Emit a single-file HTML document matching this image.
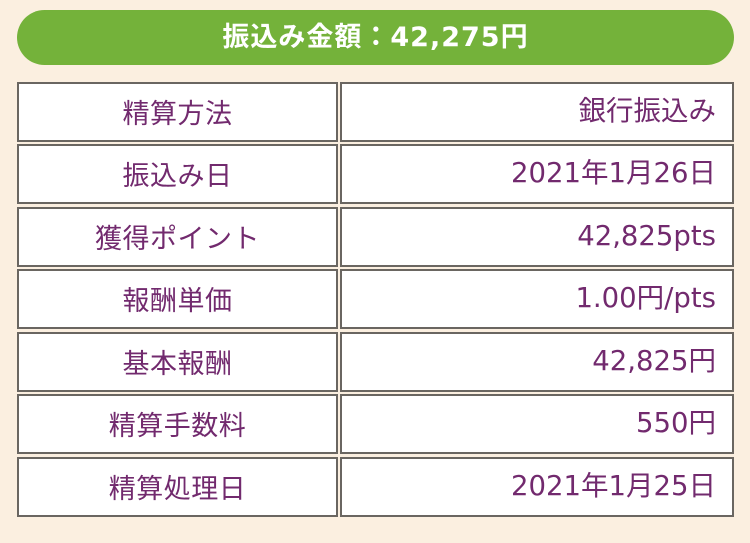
<!DOCTYPE html>
<html><head><meta charset="utf-8"><style>
body{margin:0;width:750px;height:543px;background:#fbefe0;position:relative;overflow:hidden;font-family:"DejaVu Sans","Noto Sans CJK JP",sans-serif;}
.ban{position:absolute;left:17px;top:10px;width:717px;height:55px;border-radius:28px;background:#74b23a;color:#fff;font-weight:bold;font-size:27px;line-height:55px;text-align:center;letter-spacing:1px}
.c{position:absolute;box-sizing:border-box;height:60px;border:2px solid #6a6661;background:#fff;color:#722a6e;font-size:27.5px;line-height:55px}
.l{left:17px;width:321px;text-align:center;font-family:"Noto Sans CJK JP",sans-serif;font-size:27px;letter-spacing:0.5px}
.r{left:340px;width:394px;text-align:right;padding-right:16px}
</style></head><body>
<div class="ban">振込み金額：42,275円</div>
<div class="c l" style="top:82px">精算方法</div><div class="c r" style="top:82px">銀行振込み</div>
<div class="c l" style="top:144px">振込み日</div><div class="c r" style="top:144px">2021年1月26日</div>
<div class="c l" style="top:207px">獲得ポイント</div><div class="c r" style="top:207px">42,825pts</div>
<div class="c l" style="top:269px">報酬単価</div><div class="c r" style="top:269px">1.00円/pts</div>
<div class="c l" style="top:332px">基本報酬</div><div class="c r" style="top:332px">42,825円</div>
<div class="c l" style="top:394px">精算手数料</div><div class="c r" style="top:394px">550円</div>
<div class="c l" style="top:457px">精算処理日</div><div class="c r" style="top:457px">2021年1月25日</div>
</body></html>
